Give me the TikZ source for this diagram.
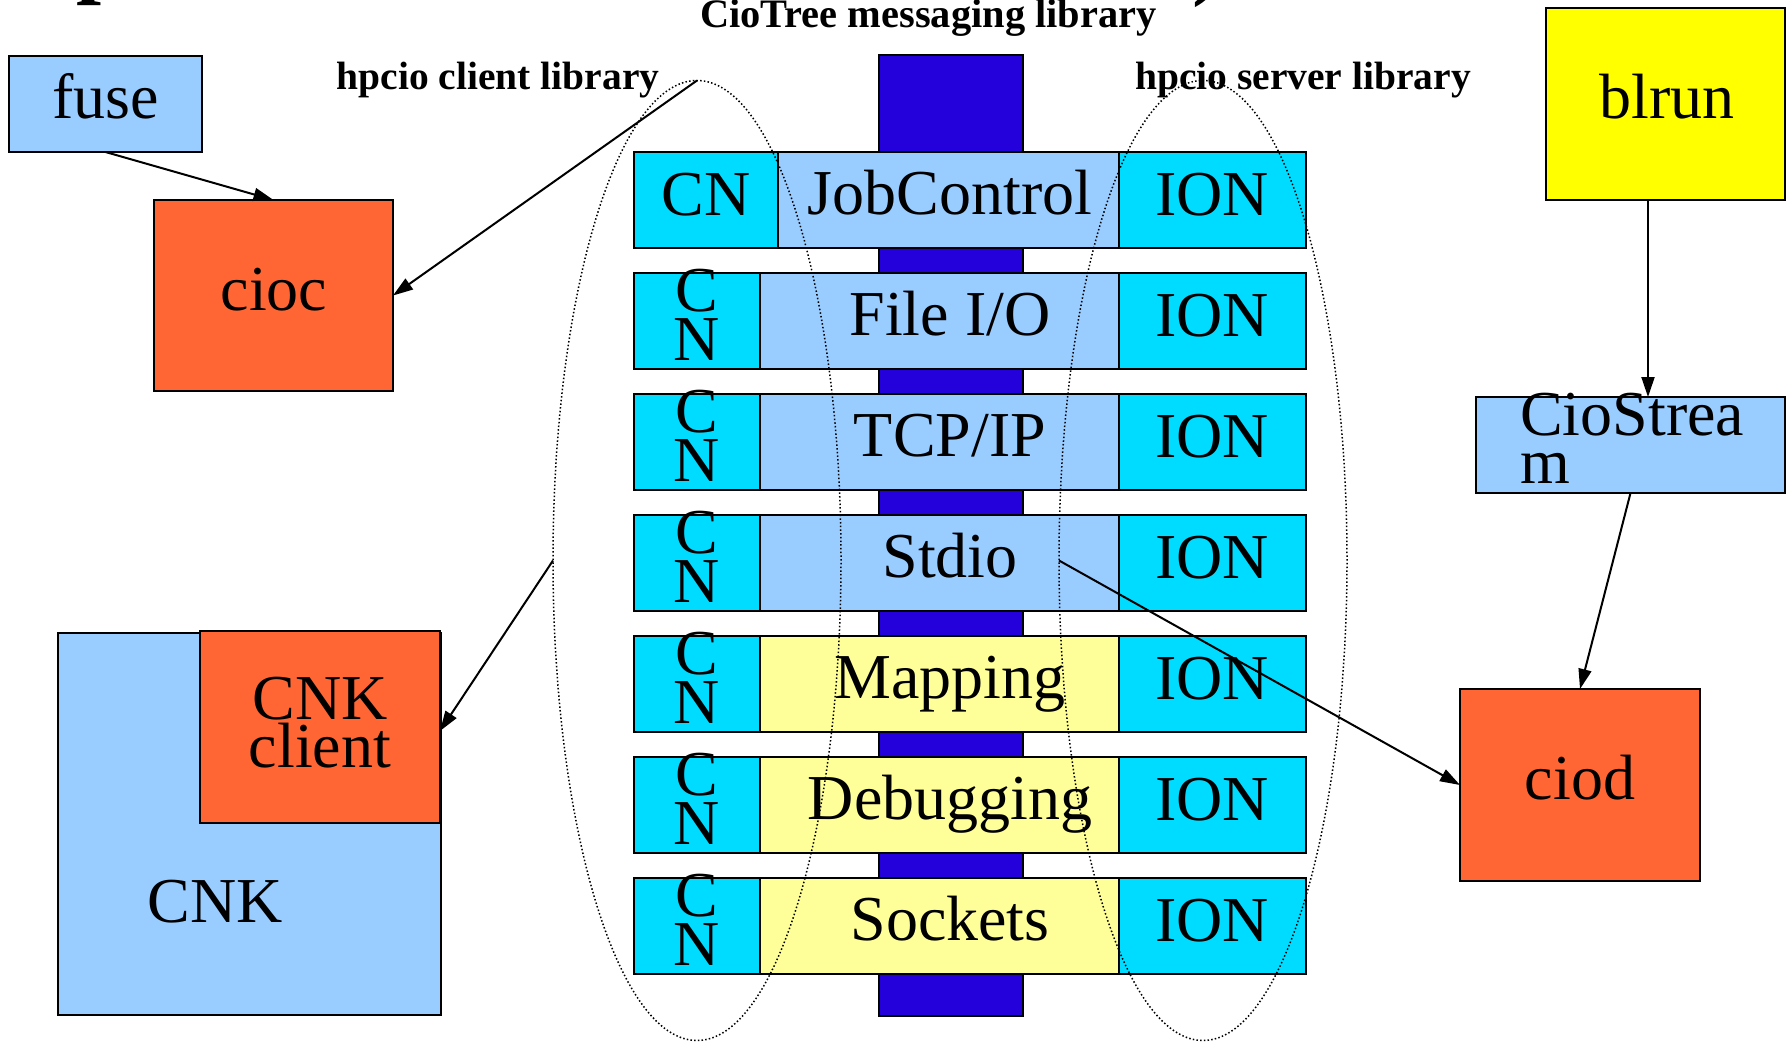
\documentclass[tikz,border=0pt]{standalone}
\usepackage{fontspec}
\setmainfont{Liberation Serif}
\usetikzlibrary{shapes.geometric,arrows.meta}
\definecolor{cyanbox}{RGB}{0,220,255}
\definecolor{lblue}{RGB}{153,204,255}
\definecolor{lyellow}{RGB}{255,255,153}
\definecolor{darkbar}{RGB}{36,0,218}
\definecolor{orangebox}{RGB}{255,102,51}
\definecolor{yellowbox}{RGB}{255,255,0}
\tikzset{
  box/.style={draw=black, line width=2.5pt, inner sep=0pt, outer sep=0pt, anchor=north west},
  big/.style={font=\fontsize{64}{64}\selectfont, inner sep=0pt, anchor=base},
  bigw/.style={font=\fontsize{64}{64}\selectfont, inner sep=0pt, anchor=base west},
  lib/.style={font=\bfseries\fontsize{39.5}{40}\selectfont, inner sep=0pt, anchor=base},
  ttl/.style={font=\bfseries\fontsize{90}{90}\selectfont, inner sep=0pt, anchor=base west},
  arr/.style={line width=2pt, -{Triangle[length=20pt,width=13pt]}},
  libell/.style={ellipse, draw=black, line width=1.5pt, dash pattern=on 1.5pt off 2.2pt,
    minimum width=288pt, minimum height=960pt, inner sep=0pt, outer sep=0pt},
}
\newcommand{\cnrow}[4]{%
  \node[box, fill=cyanbox, minimum width=126pt, minimum height=96pt] (cn#1) at (634,#2) {};
  \node[box, fill=#4, minimum width=359pt, minimum height=96pt] (mid#1) at (760,#2) {};
  \node[box, fill=cyanbox, minimum width=187pt, minimum height=96pt] (ion#1) at (1119,#2) {};
  \node[big] (cl#1) at (697,#2+38) {C};
  \node[big] (nl#1) at (697,#2+87) {N};
  \node[big] (midl#1) at (950,#2+62) {#3};
  \node[big] (ionl#1) at (1212,#2+63) {ION};
}
\begin{document}
\begin{tikzpicture}[x=1pt,y=-1pt]
\useasboundingbox (0,0) rectangle (1788,1042);
\clip (0,0) rectangle (1788,1042);
\fill[white] (0,0) rectangle (1788,1042);

% cut-off title fragments
\node[ttl] (titlep) at (76,-14) {p};
\node[ttl] (titlepar) at (1192,-12) {)};

% library labels
\node[lib, anchor=base west, font=\bfseries\fontsize{40.4}{41}\selectfont] (treelab) at (700,27) {CioTree messaging library};
\node[lib] (clientlab) at (498,89) {hpcio client library};
\node[lib] (serverlab) at (1303,89) {hpcio server library};

% messaging bar
\node[box, fill=darkbar, minimum width=144pt, minimum height=961pt] (bar) at (879,55) {};

% row 1
\node[box, fill=cyanbox, minimum width=144pt, minimum height=96pt] (cn1) at (634,152) {};
\node[box, fill=lblue, minimum width=341pt, minimum height=96pt] (mid1) at (778,152) {};
\node[box, fill=cyanbox, minimum width=187pt, minimum height=96pt] (ion1) at (1119,152) {};
\node[big] (cnl1) at (706,215) {CN};
\node[big] (midl1) at (950,214) {JobControl};
\node[big] (ionl1) at (1212,215) {ION};

\cnrow{2}{273}{File I/O}{lblue}
\cnrow{3}{394}{TCP/IP}{lblue}
\cnrow{4}{515}{Stdio}{lblue}
\cnrow{5}{636}{Mapping}{lyellow}
\cnrow{6}{757}{Debugging}{lyellow}
\cnrow{7}{878}{Sockets}{lyellow}

% left side boxes
\node[box, fill=lblue, minimum width=193pt, minimum height=96pt] (fuse) at (9,56) {};
\node[big] (fusel) at (106,118) {fuse};
\node[box, fill=orangebox, minimum width=239pt, minimum height=191pt] (cioc) at (154,200) {};
\node[big] (ciocl) at (274,310) {cioc};
\node[box, fill=lblue, minimum width=383pt, minimum height=382pt] (cnk) at (58,633) {};
\node[big] (cnkl) at (215,922) {CNK};
\node[box, fill=orangebox, minimum width=240pt, minimum height=192pt] (cnkc) at (200,631) {};
\node[big] (cnkcl1) at (320,719) {CNK};
\node[big] (cnkcl2) at (320,767) {client};

% right side boxes
\node[box, fill=yellowbox, minimum width=239pt, minimum height=192pt] (blrun) at (1546,8) {};
\node[big] (blrunl) at (1667,118) {blrun};
\node[box, fill=lblue, minimum width=309pt, minimum height=96pt] (cios) at (1476,397) {};
\node[bigw] (ciosl1) at (1520,435) {CioStrea};
\node[bigw] (ciosl2) at (1520,483) {m};
\node[box, fill=orangebox, minimum width=240pt, minimum height=192pt] (ciod) at (1460,689) {};
\node[big] (ciodl) at (1580,799) {ciod};

% library ellipses
\node[libell] (lell) at (697,560.5) {};
\node[libell] (rell) at (1203,560.5) {};

% connectors
\draw[arr] (fuse.south) -- (cioc.north);
\draw[arr] (lell.north) -- (cioc.east);
\draw[arr] (lell.west) -- ([yshift=-4pt]cnkc.east);
\draw[arr] (rell.west) -- (ciod.west);
\draw[arr] ([xshift=-17.5pt]blrun.south) -- ([xshift=-17.5pt]blrun.south |- cios.north);
\draw[arr] (cios.south) -- (ciod.north);
\end{tikzpicture}
\end{document}
